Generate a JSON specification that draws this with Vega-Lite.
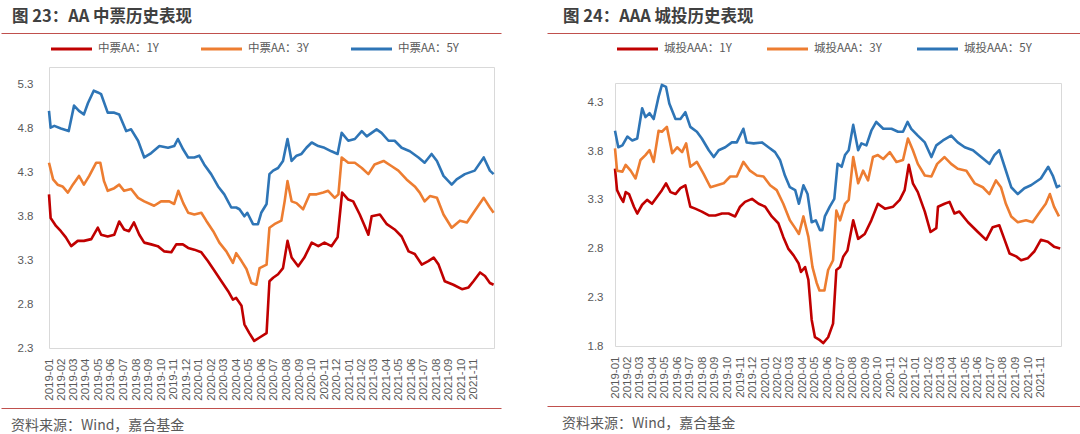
{
"$schema":"https://vega.github.io/schema/vega-lite/v6.json",
"background":"white",
"padding":{"top":8,"left":0,"right":0,"bottom":0},
"autosize":{"type":"pad"},
"config":{"view":{"stroke":"#d9d9d9","strokeWidth":1},"font":"Noto Sans CJK SC"},
"datasets":{
"aa":[
{"d":"2019-01-01","s":"1Y","v":4.05},{"d":"2019-01-05","s":"1Y","v":3.78},{"d":"2019-01-18","s":"1Y","v":3.69},{"d":"2019-01-30","s":"1Y","v":3.63},{"d":"2019-02-11","s":"1Y","v":3.56},{"d":"2019-02-24","s":"1Y","v":3.46},{"d":"2019-03-12","s":"1Y","v":3.52},{"d":"2019-03-27","s":"1Y","v":3.52},{"d":"2019-04-14","s":"1Y","v":3.54},{"d":"2019-04-30","s":"1Y","v":3.67},{"d":"2019-05-08","s":"1Y","v":3.59},{"d":"2019-05-24","s":"1Y","v":3.57},{"d":"2019-06-09","s":"1Y","v":3.59},{"d":"2019-06-21","s":"1Y","v":3.74},{"d":"2019-07-03","s":"1Y","v":3.65},{"d":"2019-07-15","s":"1Y","v":3.63},{"d":"2019-07-27","s":"1Y","v":3.73},{"d":"2019-08-09","s":"1Y","v":3.59},{"d":"2019-08-21","s":"1Y","v":3.50},{"d":"2019-09-07","s":"1Y","v":3.48},{"d":"2019-09-23","s":"1Y","v":3.46},{"d":"2019-10-09","s":"1Y","v":3.40},{"d":"2019-10-26","s":"1Y","v":3.39},{"d":"2019-11-07","s":"1Y","v":3.48},{"d":"2019-11-23","s":"1Y","v":3.48},{"d":"2019-12-06","s":"1Y","v":3.44},{"d":"2019-12-21","s":"1Y","v":3.42},{"d":"2020-01-07","s":"1Y","v":3.39},{"d":"2020-01-23","s":"1Y","v":3.29},{"d":"2020-02-08","s":"1Y","v":3.18},{"d":"2020-02-25","s":"1Y","v":3.06},{"d":"2020-03-12","s":"1Y","v":2.95},{"d":"2020-03-24","s":"1Y","v":2.85},{"d":"2020-04-01","s":"1Y","v":2.87},{"d":"2020-04-14","s":"1Y","v":2.78},{"d":"2020-04-21","s":"1Y","v":2.57},{"d":"2020-05-03","s":"1Y","v":2.47},{"d":"2020-05-15","s":"1Y","v":2.38},{"d":"2020-05-28","s":"1Y","v":2.42},{"d":"2020-06-14","s":"1Y","v":2.47},{"d":"2020-06-21","s":"1Y","v":3.06},{"d":"2020-06-30","s":"1Y","v":3.10},{"d":"2020-07-12","s":"1Y","v":3.14},{"d":"2020-07-24","s":"1Y","v":3.21},{"d":"2020-08-04","s":"1Y","v":3.52},{"d":"2020-08-14","s":"1Y","v":3.33},{"d":"2020-08-30","s":"1Y","v":3.23},{"d":"2020-09-14","s":"1Y","v":3.33},{"d":"2020-10-02","s":"1Y","v":3.50},{"d":"2020-10-18","s":"1Y","v":3.46},{"d":"2020-11-02","s":"1Y","v":3.50},{"d":"2020-11-19","s":"1Y","v":3.46},{"d":"2020-12-04","s":"1Y","v":3.56},{"d":"2020-12-15","s":"1Y","v":4.07},{"d":"2020-12-30","s":"1Y","v":3.99},{"d":"2021-01-11","s":"1Y","v":3.97},{"d":"2021-01-27","s":"1Y","v":3.82},{"d":"2021-02-08","s":"1Y","v":3.69},{"d":"2021-02-17","s":"1Y","v":3.59},{"d":"2021-02-25","s":"1Y","v":3.80},{"d":"2021-03-17","s":"1Y","v":3.82},{"d":"2021-04-03","s":"1Y","v":3.71},{"d":"2021-04-22","s":"1Y","v":3.65},{"d":"2021-05-09","s":"1Y","v":3.57},{"d":"2021-05-26","s":"1Y","v":3.40},{"d":"2021-06-10","s":"1Y","v":3.37},{"d":"2021-06-27","s":"1Y","v":3.25},{"d":"2021-07-13","s":"1Y","v":3.29},{"d":"2021-07-26","s":"1Y","v":3.33},{"d":"2021-08-07","s":"1Y","v":3.25},{"d":"2021-08-22","s":"1Y","v":3.06},{"d":"2021-09-12","s":"1Y","v":3.02},{"d":"2021-10-03","s":"1Y","v":2.97},{"d":"2021-10-19","s":"1Y","v":2.99},{"d":"2021-10-31","s":"1Y","v":3.06},{"d":"2021-11-16","s":"1Y","v":3.16},{"d":"2021-11-28","s":"1Y","v":3.12},{"d":"2021-12-10","s":"1Y","v":3.04},{"d":"2021-12-19","s":"1Y","v":3.02},
{"d":"2019-01-01","s":"3Y","v":4.41},{"d":"2019-01-11","s":"3Y","v":4.22},{"d":"2019-01-22","s":"3Y","v":4.16},{"d":"2019-02-03","s":"3Y","v":4.14},{"d":"2019-02-16","s":"3Y","v":4.07},{"d":"2019-02-28","s":"3Y","v":4.16},{"d":"2019-03-15","s":"3Y","v":4.26},{"d":"2019-03-27","s":"3Y","v":4.16},{"d":"2019-04-09","s":"3Y","v":4.26},{"d":"2019-04-26","s":"3Y","v":4.41},{"d":"2019-05-06","s":"3Y","v":4.41},{"d":"2019-05-15","s":"3Y","v":4.20},{"d":"2019-05-24","s":"3Y","v":4.09},{"d":"2019-06-09","s":"3Y","v":4.12},{"d":"2019-06-21","s":"3Y","v":4.16},{"d":"2019-07-03","s":"3Y","v":4.09},{"d":"2019-07-20","s":"3Y","v":4.11},{"d":"2019-08-06","s":"3Y","v":4.01},{"d":"2019-08-21","s":"3Y","v":3.97},{"d":"2019-09-14","s":"3Y","v":3.92},{"d":"2019-10-01","s":"3Y","v":3.97},{"d":"2019-10-21","s":"3Y","v":3.97},{"d":"2019-11-02","s":"3Y","v":3.94},{"d":"2019-11-12","s":"3Y","v":4.09},{"d":"2019-11-24","s":"3Y","v":3.95},{"d":"2019-12-06","s":"3Y","v":3.84},{"d":"2019-12-21","s":"3Y","v":3.82},{"d":"2020-01-07","s":"3Y","v":3.84},{"d":"2020-01-19","s":"3Y","v":3.75},{"d":"2020-02-05","s":"3Y","v":3.63},{"d":"2020-02-20","s":"3Y","v":3.50},{"d":"2020-03-08","s":"3Y","v":3.40},{"d":"2020-03-24","s":"3Y","v":3.27},{"d":"2020-04-01","s":"3Y","v":3.38},{"d":"2020-04-14","s":"3Y","v":3.29},{"d":"2020-04-26","s":"3Y","v":3.20},{"d":"2020-05-08","s":"3Y","v":3.04},{"d":"2020-05-20","s":"3Y","v":3.02},{"d":"2020-05-28","s":"3Y","v":3.21},{"d":"2020-06-14","s":"3Y","v":3.25},{"d":"2020-06-21","s":"3Y","v":3.67},{"d":"2020-07-03","s":"3Y","v":3.71},{"d":"2020-07-20","s":"3Y","v":3.75},{"d":"2020-07-28","s":"3Y","v":3.97},{"d":"2020-08-04","s":"3Y","v":4.20},{"d":"2020-08-14","s":"3Y","v":3.97},{"d":"2020-08-26","s":"3Y","v":3.95},{"d":"2020-09-11","s":"3Y","v":3.88},{"d":"2020-09-27","s":"3Y","v":4.05},{"d":"2020-10-14","s":"3Y","v":4.05},{"d":"2020-10-30","s":"3Y","v":4.07},{"d":"2020-11-11","s":"3Y","v":4.09},{"d":"2020-11-27","s":"3Y","v":4.01},{"d":"2020-12-06","s":"3Y","v":4.05},{"d":"2020-12-14","s":"3Y","v":4.47},{"d":"2020-12-30","s":"3Y","v":4.41},{"d":"2021-01-15","s":"3Y","v":4.41},{"d":"2021-02-01","s":"3Y","v":4.35},{"d":"2021-02-17","s":"3Y","v":4.28},{"d":"2021-03-04","s":"3Y","v":4.39},{"d":"2021-03-26","s":"3Y","v":4.43},{"d":"2021-04-15","s":"3Y","v":4.37},{"d":"2021-05-01","s":"3Y","v":4.32},{"d":"2021-05-21","s":"3Y","v":4.22},{"d":"2021-06-10","s":"3Y","v":4.14},{"d":"2021-06-22","s":"3Y","v":4.07},{"d":"2021-07-04","s":"3Y","v":3.97},{"d":"2021-07-17","s":"3Y","v":4.03},{"d":"2021-08-03","s":"3Y","v":4.01},{"d":"2021-08-19","s":"3Y","v":3.82},{"d":"2021-09-08","s":"3Y","v":3.67},{"d":"2021-09-28","s":"3Y","v":3.75},{"d":"2021-10-15","s":"3Y","v":3.73},{"d":"2021-10-31","s":"3Y","v":3.84},{"d":"2021-11-25","s":"3Y","v":4.01},{"d":"2021-12-10","s":"3Y","v":3.90},{"d":"2021-12-19","s":"3Y","v":3.84},
{"d":"2019-01-01","s":"5Y","v":5.00},{"d":"2019-01-05","s":"5Y","v":4.81},{"d":"2019-01-14","s":"5Y","v":4.83},{"d":"2019-01-30","s":"5Y","v":4.80},{"d":"2019-02-18","s":"5Y","v":4.77},{"d":"2019-03-03","s":"5Y","v":5.06},{"d":"2019-03-15","s":"5Y","v":5.00},{"d":"2019-03-27","s":"5Y","v":4.96},{"d":"2019-04-06","s":"5Y","v":5.09},{"d":"2019-04-20","s":"5Y","v":5.23},{"d":"2019-04-30","s":"5Y","v":5.21},{"d":"2019-05-08","s":"5Y","v":5.19},{"d":"2019-05-24","s":"5Y","v":4.98},{"d":"2019-06-09","s":"5Y","v":4.98},{"d":"2019-06-21","s":"5Y","v":4.96},{"d":"2019-07-08","s":"5Y","v":4.77},{"d":"2019-07-20","s":"5Y","v":4.79},{"d":"2019-08-06","s":"5Y","v":4.66},{"d":"2019-08-21","s":"5Y","v":4.47},{"d":"2019-09-07","s":"5Y","v":4.52},{"d":"2019-09-27","s":"5Y","v":4.60},{"d":"2019-10-18","s":"5Y","v":4.58},{"d":"2019-11-02","s":"5Y","v":4.60},{"d":"2019-11-11","s":"5Y","v":4.68},{"d":"2019-11-24","s":"5Y","v":4.56},{"d":"2019-12-06","s":"5Y","v":4.47},{"d":"2019-12-21","s":"5Y","v":4.47},{"d":"2020-01-02","s":"5Y","v":4.49},{"d":"2020-01-14","s":"5Y","v":4.39},{"d":"2020-01-31","s":"5Y","v":4.28},{"d":"2020-02-17","s":"5Y","v":4.14},{"d":"2020-03-03","s":"5Y","v":4.05},{"d":"2020-03-20","s":"5Y","v":3.90},{"d":"2020-04-01","s":"5Y","v":3.90},{"d":"2020-04-09","s":"5Y","v":3.88},{"d":"2020-04-21","s":"5Y","v":3.80},{"d":"2020-04-28","s":"5Y","v":3.84},{"d":"2020-05-12","s":"5Y","v":3.71},{"d":"2020-05-24","s":"5Y","v":3.71},{"d":"2020-06-01","s":"5Y","v":3.84},{"d":"2020-06-14","s":"5Y","v":3.94},{"d":"2020-06-21","s":"5Y","v":4.28},{"d":"2020-06-30","s":"5Y","v":4.32},{"d":"2020-07-12","s":"5Y","v":4.35},{"d":"2020-07-24","s":"5Y","v":4.43},{"d":"2020-08-04","s":"5Y","v":4.68},{"d":"2020-08-14","s":"5Y","v":4.43},{"d":"2020-08-26","s":"5Y","v":4.49},{"d":"2020-09-07","s":"5Y","v":4.51},{"d":"2020-09-19","s":"5Y","v":4.58},{"d":"2020-10-02","s":"5Y","v":4.64},{"d":"2020-10-18","s":"5Y","v":4.60},{"d":"2020-11-02","s":"5Y","v":4.58},{"d":"2020-11-19","s":"5Y","v":4.54},{"d":"2020-12-04","s":"5Y","v":4.51},{"d":"2020-12-14","s":"5Y","v":4.75},{"d":"2020-12-30","s":"5Y","v":4.66},{"d":"2021-01-15","s":"5Y","v":4.68},{"d":"2021-02-01","s":"5Y","v":4.77},{"d":"2021-02-13","s":"5Y","v":4.71},{"d":"2021-03-09","s":"5Y","v":4.79},{"d":"2021-03-21","s":"5Y","v":4.75},{"d":"2021-04-07","s":"5Y","v":4.66},{"d":"2021-04-22","s":"5Y","v":4.66},{"d":"2021-05-09","s":"5Y","v":4.58},{"d":"2021-05-29","s":"5Y","v":4.54},{"d":"2021-06-19","s":"5Y","v":4.47},{"d":"2021-07-04","s":"5Y","v":4.41},{"d":"2021-07-21","s":"5Y","v":4.51},{"d":"2021-08-03","s":"5Y","v":4.43},{"d":"2021-08-19","s":"5Y","v":4.26},{"d":"2021-09-08","s":"5Y","v":4.16},{"d":"2021-09-20","s":"5Y","v":4.22},{"d":"2021-10-10","s":"5Y","v":4.28},{"d":"2021-11-03","s":"5Y","v":4.32},{"d":"2021-11-25","s":"5Y","v":4.47},{"d":"2021-12-10","s":"5Y","v":4.32},{"d":"2021-12-19","s":"5Y","v":4.28}
],
"ct":[
{"d":"2019-01-01","s":"1Y","v":3.62},{"d":"2019-01-06","s":"1Y","v":3.40},{"d":"2019-01-14","s":"1Y","v":3.33},{"d":"2019-01-21","s":"1Y","v":3.28},{"d":"2019-01-27","s":"1Y","v":3.38},{"d":"2019-02-04","s":"1Y","v":3.36},{"d":"2019-02-16","s":"1Y","v":3.23},{"d":"2019-02-24","s":"1Y","v":3.16},{"d":"2019-03-08","s":"1Y","v":3.25},{"d":"2019-03-20","s":"1Y","v":3.30},{"d":"2019-04-01","s":"1Y","v":3.26},{"d":"2019-04-13","s":"1Y","v":3.33},{"d":"2019-04-25","s":"1Y","v":3.40},{"d":"2019-05-05","s":"1Y","v":3.47},{"d":"2019-05-16","s":"1Y","v":3.38},{"d":"2019-05-28","s":"1Y","v":3.36},{"d":"2019-06-09","s":"1Y","v":3.42},{"d":"2019-06-21","s":"1Y","v":3.45},{"d":"2019-07-03","s":"1Y","v":3.23},{"d":"2019-07-15","s":"1Y","v":3.21},{"d":"2019-07-31","s":"1Y","v":3.18},{"d":"2019-08-17","s":"1Y","v":3.14},{"d":"2019-09-02","s":"1Y","v":3.14},{"d":"2019-09-18","s":"1Y","v":3.16},{"d":"2019-10-04","s":"1Y","v":3.16},{"d":"2019-10-20","s":"1Y","v":3.13},{"d":"2019-11-01","s":"1Y","v":3.23},{"d":"2019-11-13","s":"1Y","v":3.28},{"d":"2019-11-30","s":"1Y","v":3.31},{"d":"2019-12-16","s":"1Y","v":3.26},{"d":"2020-01-01","s":"1Y","v":3.23},{"d":"2020-01-17","s":"1Y","v":3.13},{"d":"2020-02-02","s":"1Y","v":3.06},{"d":"2020-02-14","s":"1Y","v":2.92},{"d":"2020-02-26","s":"1Y","v":2.80},{"d":"2020-03-10","s":"1Y","v":2.73},{"d":"2020-03-22","s":"1Y","v":2.65},{"d":"2020-03-28","s":"1Y","v":2.56},{"d":"2020-04-07","s":"1Y","v":2.61},{"d":"2020-04-15","s":"1Y","v":2.48},{"d":"2020-04-23","s":"1Y","v":2.07},{"d":"2020-05-01","s":"1Y","v":1.89},{"d":"2020-05-13","s":"1Y","v":1.86},{"d":"2020-05-21","s":"1Y","v":1.83},{"d":"2020-06-02","s":"1Y","v":1.89},{"d":"2020-06-14","s":"1Y","v":2.03},{"d":"2020-06-22","s":"1Y","v":2.58},{"d":"2020-07-01","s":"1Y","v":2.61},{"d":"2020-07-09","s":"1Y","v":2.72},{"d":"2020-07-19","s":"1Y","v":2.78},{"d":"2020-08-02","s":"1Y","v":3.09},{"d":"2020-08-14","s":"1Y","v":2.90},{"d":"2020-08-30","s":"1Y","v":2.95},{"d":"2020-09-15","s":"1Y","v":3.09},{"d":"2020-10-01","s":"1Y","v":3.26},{"d":"2020-10-18","s":"1Y","v":3.21},{"d":"2020-11-07","s":"1Y","v":3.23},{"d":"2020-11-23","s":"1Y","v":3.30},{"d":"2020-12-05","s":"1Y","v":3.40},{"d":"2020-12-15","s":"1Y","v":3.66},{"d":"2020-12-25","s":"1Y","v":3.47},{"d":"2021-01-06","s":"1Y","v":3.38},{"d":"2021-01-23","s":"1Y","v":3.18},{"d":"2021-02-06","s":"1Y","v":2.97},{"d":"2021-02-20","s":"1Y","v":3.01},{"d":"2021-02-24","s":"1Y","v":3.23},{"d":"2021-03-12","s":"1Y","v":3.26},{"d":"2021-03-24","s":"1Y","v":3.28},{"d":"2021-04-05","s":"1Y","v":3.16},{"d":"2021-04-17","s":"1Y","v":3.18},{"d":"2021-05-08","s":"1Y","v":3.07},{"d":"2021-06-01","s":"1Y","v":2.97},{"d":"2021-06-21","s":"1Y","v":2.89},{"d":"2021-07-07","s":"1Y","v":3.02},{"d":"2021-07-23","s":"1Y","v":3.04},{"d":"2021-08-05","s":"1Y","v":2.89},{"d":"2021-08-17","s":"1Y","v":2.75},{"d":"2021-09-02","s":"1Y","v":2.72},{"d":"2021-09-14","s":"1Y","v":2.68},{"d":"2021-09-30","s":"1Y","v":2.70},{"d":"2021-10-16","s":"1Y","v":2.77},{"d":"2021-11-01","s":"1Y","v":2.89},{"d":"2021-11-18","s":"1Y","v":2.87},{"d":"2021-12-03","s":"1Y","v":2.82},{"d":"2021-12-18","s":"1Y","v":2.80},
{"d":"2019-01-01","s":"3Y","v":3.83},{"d":"2019-01-06","s":"3Y","v":3.60},{"d":"2019-01-19","s":"3Y","v":3.59},{"d":"2019-01-27","s":"3Y","v":3.66},{"d":"2019-02-08","s":"3Y","v":3.60},{"d":"2019-02-20","s":"3Y","v":3.52},{"d":"2019-03-04","s":"3Y","v":3.71},{"d":"2019-03-16","s":"3Y","v":3.76},{"d":"2019-03-26","s":"3Y","v":3.81},{"d":"2019-04-05","s":"3Y","v":3.69},{"d":"2019-04-17","s":"3Y","v":4.01},{"d":"2019-04-25","s":"3Y","v":4.00},{"d":"2019-05-07","s":"3Y","v":4.05},{"d":"2019-05-20","s":"3Y","v":3.78},{"d":"2019-06-01","s":"3Y","v":3.84},{"d":"2019-06-13","s":"3Y","v":3.79},{"d":"2019-06-23","s":"3Y","v":3.88},{"d":"2019-07-03","s":"3Y","v":3.64},{"d":"2019-07-19","s":"3Y","v":3.69},{"d":"2019-08-04","s":"3Y","v":3.57},{"d":"2019-08-21","s":"3Y","v":3.43},{"d":"2019-09-06","s":"3Y","v":3.45},{"d":"2019-09-22","s":"3Y","v":3.47},{"d":"2019-10-08","s":"3Y","v":3.54},{"d":"2019-10-24","s":"3Y","v":3.54},{"d":"2019-11-09","s":"3Y","v":3.69},{"d":"2019-11-25","s":"3Y","v":3.60},{"d":"2019-12-12","s":"3Y","v":3.55},{"d":"2019-12-28","s":"3Y","v":3.54},{"d":"2020-01-13","s":"3Y","v":3.45},{"d":"2020-01-29","s":"3Y","v":3.40},{"d":"2020-02-14","s":"3Y","v":3.26},{"d":"2020-03-01","s":"3Y","v":3.09},{"d":"2020-03-14","s":"3Y","v":3.01},{"d":"2020-03-23","s":"3Y","v":2.95},{"d":"2020-04-03","s":"3Y","v":3.13},{"d":"2020-04-15","s":"3Y","v":2.92},{"d":"2020-04-25","s":"3Y","v":2.61},{"d":"2020-05-05","s":"3Y","v":2.45},{"d":"2020-05-12","s":"3Y","v":2.37},{"d":"2020-05-24","s":"3Y","v":2.37},{"d":"2020-06-02","s":"3Y","v":2.58},{"d":"2020-06-14","s":"3Y","v":2.68},{"d":"2020-06-22","s":"3Y","v":3.19},{"d":"2020-07-01","s":"3Y","v":3.09},{"d":"2020-07-13","s":"3Y","v":3.26},{"d":"2020-07-22","s":"3Y","v":3.30},{"d":"2020-08-02","s":"3Y","v":3.74},{"d":"2020-08-14","s":"3Y","v":3.47},{"d":"2020-08-26","s":"3Y","v":3.60},{"d":"2020-09-07","s":"3Y","v":3.50},{"d":"2020-09-19","s":"3Y","v":3.74},{"d":"2020-10-01","s":"3Y","v":3.76},{"d":"2020-10-14","s":"3Y","v":3.72},{"d":"2020-10-30","s":"3Y","v":3.79},{"d":"2020-11-15","s":"3Y","v":3.69},{"d":"2020-12-01","s":"3Y","v":3.71},{"d":"2020-12-13","s":"3Y","v":3.93},{"d":"2020-12-25","s":"3Y","v":3.81},{"d":"2021-01-06","s":"3Y","v":3.67},{"d":"2021-01-23","s":"3Y","v":3.55},{"d":"2021-02-08","s":"3Y","v":3.54},{"d":"2021-02-22","s":"3Y","v":3.67},{"d":"2021-03-12","s":"3Y","v":3.74},{"d":"2021-03-28","s":"3Y","v":3.67},{"d":"2021-04-13","s":"3Y","v":3.62},{"d":"2021-05-04","s":"3Y","v":3.60},{"d":"2021-05-24","s":"3Y","v":3.47},{"d":"2021-06-13","s":"3Y","v":3.43},{"d":"2021-06-29","s":"3Y","v":3.36},{"d":"2021-07-15","s":"3Y","v":3.50},{"d":"2021-07-27","s":"3Y","v":3.43},{"d":"2021-08-08","s":"3Y","v":3.26},{"d":"2021-08-21","s":"3Y","v":3.13},{"d":"2021-09-06","s":"3Y","v":3.07},{"d":"2021-09-26","s":"3Y","v":3.09},{"d":"2021-10-12","s":"3Y","v":3.07},{"d":"2021-11-01","s":"3Y","v":3.19},{"d":"2021-11-13","s":"3Y","v":3.26},{"d":"2021-11-23","s":"3Y","v":3.36},{"d":"2021-12-03","s":"3Y","v":3.23},{"d":"2021-12-15","s":"3Y","v":3.13},
{"d":"2019-01-01","s":"5Y","v":4.01},{"d":"2019-01-09","s":"5Y","v":3.84},{"d":"2019-01-19","s":"5Y","v":3.86},{"d":"2019-01-31","s":"5Y","v":3.95},{"d":"2019-02-12","s":"5Y","v":3.91},{"d":"2019-02-24","s":"5Y","v":3.93},{"d":"2019-03-08","s":"5Y","v":4.24},{"d":"2019-03-16","s":"5Y","v":4.15},{"d":"2019-03-26","s":"5Y","v":4.19},{"d":"2019-04-05","s":"5Y","v":4.13},{"d":"2019-04-17","s":"5Y","v":4.36},{"d":"2019-04-25","s":"5Y","v":4.48},{"d":"2019-05-05","s":"5Y","v":4.46},{"d":"2019-05-13","s":"5Y","v":4.29},{"d":"2019-05-28","s":"5Y","v":4.13},{"d":"2019-06-09","s":"5Y","v":4.13},{"d":"2019-06-21","s":"5Y","v":4.20},{"d":"2019-07-03","s":"5Y","v":4.05},{"d":"2019-07-19","s":"5Y","v":4.00},{"d":"2019-07-31","s":"5Y","v":3.93},{"d":"2019-08-17","s":"5Y","v":3.81},{"d":"2019-08-29","s":"5Y","v":3.74},{"d":"2019-09-10","s":"5Y","v":3.81},{"d":"2019-09-26","s":"5Y","v":3.84},{"d":"2019-10-12","s":"5Y","v":3.89},{"d":"2019-10-24","s":"5Y","v":3.89},{"d":"2019-11-09","s":"5Y","v":4.03},{"d":"2019-11-17","s":"5Y","v":3.89},{"d":"2019-12-04","s":"5Y","v":3.88},{"d":"2019-12-24","s":"5Y","v":3.89},{"d":"2020-01-09","s":"5Y","v":3.84},{"d":"2020-01-25","s":"5Y","v":3.79},{"d":"2020-02-06","s":"5Y","v":3.71},{"d":"2020-02-18","s":"5Y","v":3.55},{"d":"2020-03-01","s":"5Y","v":3.43},{"d":"2020-03-14","s":"5Y","v":3.40},{"d":"2020-03-23","s":"5Y","v":3.26},{"d":"2020-04-03","s":"5Y","v":3.45},{"d":"2020-04-13","s":"5Y","v":3.36},{"d":"2020-04-23","s":"5Y","v":3.07},{"d":"2020-05-03","s":"5Y","v":3.09},{"d":"2020-05-13","s":"5Y","v":2.99},{"d":"2020-05-19","s":"5Y","v":2.99},{"d":"2020-05-25","s":"5Y","v":3.13},{"d":"2020-06-06","s":"5Y","v":3.23},{"d":"2020-06-17","s":"5Y","v":3.31},{"d":"2020-06-25","s":"5Y","v":3.67},{"d":"2020-07-05","s":"5Y","v":3.64},{"d":"2020-07-13","s":"5Y","v":3.76},{"d":"2020-07-22","s":"5Y","v":3.81},{"d":"2020-08-02","s":"5Y","v":4.07},{"d":"2020-08-14","s":"5Y","v":3.81},{"d":"2020-08-22","s":"5Y","v":3.88},{"d":"2020-09-03","s":"5Y","v":3.86},{"d":"2020-09-15","s":"5Y","v":4.01},{"d":"2020-09-27","s":"5Y","v":4.10},{"d":"2020-10-14","s":"5Y","v":4.03},{"d":"2020-11-03","s":"5Y","v":4.03},{"d":"2020-11-19","s":"5Y","v":4.00},{"d":"2020-12-01","s":"5Y","v":4.00},{"d":"2020-12-12","s":"5Y","v":4.10},{"d":"2020-12-21","s":"5Y","v":4.03},{"d":"2021-01-06","s":"5Y","v":3.96},{"d":"2021-01-23","s":"5Y","v":3.89},{"d":"2021-02-08","s":"5Y","v":3.74},{"d":"2021-02-20","s":"5Y","v":3.86},{"d":"2021-03-08","s":"5Y","v":3.91},{"d":"2021-03-28","s":"5Y","v":3.96},{"d":"2021-04-13","s":"5Y","v":3.89},{"d":"2021-04-30","s":"5Y","v":3.84},{"d":"2021-05-20","s":"5Y","v":3.81},{"d":"2021-06-09","s":"5Y","v":3.74},{"d":"2021-06-29","s":"5Y","v":3.67},{"d":"2021-07-11","s":"5Y","v":3.76},{"d":"2021-07-23","s":"5Y","v":3.81},{"d":"2021-08-05","s":"5Y","v":3.64},{"d":"2021-08-21","s":"5Y","v":3.43},{"d":"2021-09-06","s":"5Y","v":3.36},{"d":"2021-09-22","s":"5Y","v":3.42},{"d":"2021-10-08","s":"5Y","v":3.45},{"d":"2021-11-01","s":"5Y","v":3.52},{"d":"2021-11-19","s":"5Y","v":3.64},{"d":"2021-11-30","s":"5Y","v":3.55},{"d":"2021-12-10","s":"5Y","v":3.43},{"d":"2021-12-18","s":"5Y","v":3.45}
]
},
"hconcat":[
 {"vconcat":[
  {"width":452,"height":1,"view":{"stroke":null},"data":{"values":[]},"mark":"point",
   "encoding":{"x":{"field":"x","type":"quantitative","scale":{"domain":[0,1],"range":[-48,452]},"axis":{"orient":"bottom","domainColor":"#C0504D","domainWidth":1,"labels":false,"ticks":false,"grid":false,"title":null}}},
   "title":{"text":"图 23：AA 中票历史表现","anchor":"start","frame":"group","orient":"top","fontSize":16.5,"fontWeight":"bold","color":"#404040","offset":7,"dx":-37,"font":"Noto Sans CJK SC"}},
  {"vconcat":[
   {"width":445,"height":281,"data":{"name":"aa"},
    "mark":{"type":"line","strokeWidth":2.6,"strokeJoin":"round"},
    "encoding":{
     "x":{"field":"d","type":"temporal","scale":{"type":"utc","domain":[{"year":2019,"month":1,"date":1,"utc":true},{"year":2021,"month":12,"date":20,"utc":true}]},
      "axis":{"title":null,"format":"%Y-%m","labelExpr":"datum.value >= 1638316800000 ? '' : datum.label","labelAngle":-90,"tickCount":{"interval":"month","step":1},"ticks":false,"tickSize":0,"domain":false,"grid":false,"labelPadding":10,"labelFontSize":11.5,"labelColor":"#595959","labelFont":"Liberation Sans","labelOverlap":false,"labelFlush":false,"labelBound":false}},
     "y":{"field":"v","type":"quantitative","scale":{"domain":[2.3,5.5],"nice":false,"zero":false},
      "axis":{"title":null,"values":[2.3,2.8,3.3,3.8,4.3,4.8,5.3],"format":".1f","ticks":false,"tickSize":0,"domain":false,"grid":false,"labelPadding":16,"labelFontSize":11.5,"labelColor":"#595959","labelFont":"Liberation Sans","minExtent":48}},
     "color":{"field":"s","type":"nominal","scale":{"domain":["1Y","3Y","5Y"],"range":["#C00000","#ED7D31","#2E75B6"]},
      "legend":{"orient":"top","offset":12,"direction":"horizontal","title":null,"symbolType":"stroke","symbolSize":1681,"symbolStrokeWidth":3.2,"clipHeight":12,"labelFontSize":11.5,"labelFont":"Noto Sans CJK SC","labelColor":"#595959","columnPadding":40,"labelOffset":4,"padding":0,"labelLimit":200,"labelExpr":"'中票AA：' + datum.label"}}
    }},
   {"width":452,"height":1,"view":{"stroke":null},"data":{"values":[]},"mark":"point",
    "encoding":{"x":{"field":"x","type":"quantitative","scale":{"domain":[0,1],"range":[-48,452]},"axis":{"orient":"top","domainColor":"#C0504D","domainWidth":1,"labels":false,"ticks":false,"grid":false,"title":null}}},
    "title":{"text":"资料来源：Wind，嘉合基金","anchor":"start","frame":"group","orient":"bottom","fontSize":14,"fontWeight":"normal","color":"#595959","offset":10,"dx":-38,"font":"Noto Sans CJK SC"}}
  ],"spacing":7,"resolve":{"scale":{"color":"independent","x":"independent"},"legend":{"color":"independent"}}}
 ],"spacing":9,"resolve":{"scale":{"color":"independent","x":"independent"},"legend":{"color":"independent"}}},
 {"vconcat":[
  {"width":467,"height":1,"view":{"stroke":null},"data":{"values":[]},"mark":"point",
   "encoding":{"x":{"field":"x","type":"quantitative","scale":{"domain":[0,1],"range":[-68,467]},"axis":{"orient":"bottom","domainColor":"#C0504D","domainWidth":1,"labels":false,"ticks":false,"grid":false,"title":null}}},
   "title":{"text":"图 24：AAA 城投历史表现","anchor":"start","frame":"group","orient":"top","fontSize":16.5,"fontWeight":"bold","color":"#404040","offset":7,"dx":-52,"font":"Noto Sans CJK SC"}},
  {"vconcat":[
   {"width":446,"height":263,"data":{"name":"ct"},
    "mark":{"type":"line","strokeWidth":2.6,"strokeJoin":"round"},
    "encoding":{
     "x":{"field":"d","type":"temporal","scale":{"type":"utc","domain":[{"year":2019,"month":1,"date":1,"utc":true},{"year":2021,"month":12,"date":20,"utc":true}]},
      "axis":{"title":null,"format":"%Y-%m","labelExpr":"datum.value >= 1638316800000 ? '' : datum.label","labelAngle":-90,"tickCount":{"interval":"month","step":1},"ticks":false,"tickSize":0,"domain":false,"grid":false,"labelPadding":10,"labelFontSize":11.5,"labelColor":"#595959","labelFont":"Liberation Sans","labelOverlap":false,"labelFlush":false,"labelBound":false}},
     "y":{"field":"v","type":"quantitative","scale":{"domain":[1.8,4.5],"nice":false,"zero":false},
      "axis":{"title":null,"values":[1.8,2.3,2.8,3.3,3.8,4.3],"format":".1f","ticks":false,"tickSize":0,"domain":false,"grid":false,"labelPadding":12,"labelFontSize":11.5,"labelColor":"#595959","labelFont":"Liberation Sans","minExtent":68}},
     "color":{"field":"s","type":"nominal","scale":{"domain":["1Y","3Y","5Y"],"range":["#C00000","#ED7D31","#2E75B6"]},
      "legend":{"orient":"top","offset":28,"direction":"horizontal","title":null,"symbolType":"stroke","symbolSize":1681,"symbolStrokeWidth":3.2,"clipHeight":12,"labelFontSize":11.5,"labelFont":"Noto Sans CJK SC","labelColor":"#595959","columnPadding":33,"labelOffset":4,"padding":0,"labelLimit":200,"labelExpr":"'城投AAA：' + datum.label"}}
    }},
   {"width":467,"height":1,"view":{"stroke":null},"data":{"values":[]},"mark":"point",
    "encoding":{"x":{"field":"x","type":"quantitative","scale":{"domain":[0,1],"range":[-68,467]},"axis":{"orient":"top","domainColor":"#C0504D","domainWidth":1,"labels":false,"ticks":false,"grid":false,"title":null}}},
    "title":{"text":"资料来源：Wind，嘉合基金","anchor":"start","frame":"group","orient":"bottom","fontSize":14,"fontWeight":"normal","color":"#595959","offset":10,"dx":-53,"font":"Noto Sans CJK SC"}}
  ],"spacing":7,"resolve":{"scale":{"color":"independent","x":"independent"},"legend":{"color":"independent"}}}
 ],"spacing":9,"resolve":{"scale":{"color":"independent","x":"independent"},"legend":{"color":"independent"}}}
],
"spacing":-3,
"resolve":{"scale":{"color":"independent","x":"independent","y":"independent"},"legend":{"color":"independent"}}
}
